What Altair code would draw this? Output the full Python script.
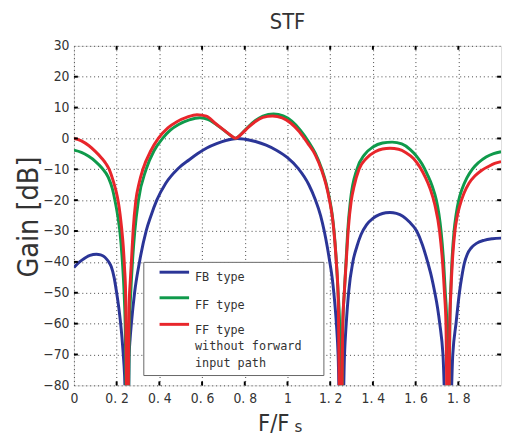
import altair as alt
import pandas as pd

# ---------------- data ----------------
x_tick_values = [0, 0.2, 0.4, 0.6, 0.8, 1.0, 1.2, 1.4, 1.6, 1.8]
y_tick_values = [-80, -70, -60, -50, -40, -30, -20, -10, 0, 10, 20, 30]

# FB type (blue)
fb_x = [0.000, 0.025, 0.050, 0.075, 0.105, 0.125, 0.145, 0.160, 0.175, 0.188, 0.200, 0.210,
        0.218, 0.225, 0.231, 0.237, 0.252,
        0.258, 0.263, 0.269, 0.284, 0.307, 0.338, 0.360, 0.388, 0.430, 0.487, 0.540, 0.580,
        0.622, 0.668, 0.715, 0.765,
        0.800, 0.850, 0.900, 0.950, 1.000, 1.050, 1.100, 1.130, 1.155, 1.172, 1.186, 1.198,
        1.209, 1.217, 1.229, 1.237, 1.252,
        1.267, 1.275, 1.286, 1.306, 1.325, 1.344, 1.370, 1.400, 1.430, 1.460, 1.480, 1.510,
        1.540, 1.570, 1.605, 1.632, 1.656, 1.675, 1.690, 1.703, 1.713, 1.728, 1.752,
        1.774, 1.789, 1.805, 1.817, 1.828, 1.842, 1.860, 1.885, 1.920, 1.960, 2.000]
fb_y = [-41.8, -40.1, -38.8, -37.9, -37.5, -37.7, -38.5, -39.7, -41.6, -45.0, -50.0, -54.8,
        -59.5, -64.5, -70.0, -76.5, -115.0,
        -71.0, -65.0, -60.0, -50.0, -40.0, -30.0, -25.2, -20.0, -14.5, -9.8, -6.9, -4.9,
        -3.1, -1.7, -0.6, 0.0,
        -0.25, -1.0, -2.2, -3.9, -6.2, -9.7, -15.0, -19.8, -25.0, -30.0, -35.0, -40.0,
        -45.0, -50.0, -60.0, -70.0, -115.0,
        -70.0, -60.0, -50.0, -40.0, -35.0, -31.2, -28.0, -25.9, -24.7, -24.1, -24.0, -24.3,
        -25.2, -27.0, -30.0, -34.5, -40.0, -45.0, -50.0, -55.0, -60.0, -70.0, -115.0,
        -70.0, -60.0, -50.0, -44.5, -40.5, -37.5, -35.5, -34.0, -33.0, -32.5, -32.3]

# FF type (green)
ff_x = [0.000, 0.035, 0.069, 0.100, 0.130, 0.161, 0.180, 0.192, 0.205, 0.215, 0.227, 0.235,
        0.240, 0.250,
        0.260, 0.266, 0.274, 0.285, 0.302, 0.338, 0.375, 0.415, 0.450, 0.490, 0.540, 0.590,
        0.630, 0.668, 0.700, 0.725, 0.745, 0.757,
        0.770, 0.790, 0.820, 0.850, 0.885, 0.935, 0.980, 1.020, 1.060, 1.098, 1.130, 1.160,
        1.180, 1.198, 1.210, 1.218, 1.229, 1.237, 1.244, 1.252,
        1.259, 1.266, 1.274, 1.282, 1.295, 1.325, 1.360, 1.400, 1.445, 1.490, 1.535, 1.575,
        1.605, 1.630, 1.655, 1.677, 1.697, 1.709, 1.719, 1.731, 1.739, 1.746, 1.755,
        1.760, 1.764, 1.770, 1.780, 1.790, 1.802, 1.818, 1.840, 1.865, 1.895, 1.930, 1.965,
        2.000]
ff_y = [-3.8, -4.5, -5.8, -7.4, -9.5, -12.6, -16.3, -20.0, -25.0, -30.0, -40.0, -50.0,
        -60.0, -115.0,
        -60.0, -50.0, -40.0, -30.0, -20.0, -10.0, -4.0, 0.0, 2.6, 4.5, 6.0, 6.7,
        6.1, 4.4, 2.8, 1.4, 0.4, 0.05,
        0.6, 1.9, 4.0, 5.8, 7.2, 7.9, 7.3, 5.6, 2.7, -1.0, -4.8, -9.8,
        -14.3, -20.0, -25.0, -30.0, -40.0, -50.0, -60.0, -115.0,
        -60.0, -50.0, -40.0, -30.0, -20.0, -10.0, -5.3, -2.8, -1.5, -1.2, -1.8, -3.6,
        -5.8, -8.3, -11.7, -15.3, -20.0, -24.5, -30.0, -40.0, -50.0, -60.0, -115.0,
        -60.0, -50.0, -40.0, -30.0, -24.5, -20.0, -16.3, -12.8, -10.0, -7.8, -6.0, -4.9,
        -4.3]

# FF type without forward input path (red)
ffn_x = [0.000, 0.035, 0.069, 0.100, 0.130, 0.150, 0.165, 0.185, 0.197, 0.207, 0.216, 0.224,
         0.231, 0.237, 0.242, 0.250,
         0.258, 0.264, 0.269, 0.277, 0.290, 0.305, 0.323, 0.360, 0.395, 0.440, 0.484, 0.530,
         0.576, 0.620, 0.660, 0.695, 0.725, 0.745, 0.757,
         0.770, 0.790, 0.820, 0.850, 0.885, 0.930, 0.975, 1.015, 1.055, 1.095, 1.130, 1.160,
         1.180, 1.198, 1.210, 1.218, 1.229, 1.237, 1.250,
         1.259, 1.266, 1.275, 1.284, 1.299, 1.312, 1.335, 1.370, 1.410, 1.445, 1.480, 1.520,
         1.555, 1.590, 1.620, 1.645, 1.668, 1.690, 1.712, 1.726, 1.735, 1.742, 1.752,
         1.760, 1.765, 1.772, 1.784, 1.794, 1.808, 1.825, 1.850, 1.877, 1.910, 1.943, 1.970,
         2.000]
ffn_y = [0.0, -0.8, -2.3, -4.2, -6.4, -8.2, -10.0, -14.0, -17.0, -20.3, -24.5, -29.5,
         -35.0, -42.0, -50.0, -115.0,
         -55.0, -46.0, -40.0, -30.0, -20.0, -14.5, -10.0, -4.0, 0.0, 3.4, 5.5, 6.9,
         7.7, 7.2, 5.0, 3.1, 1.5, 0.45, 0.05,
         0.55, 1.8, 3.8, 5.5, 6.8, 7.3, 6.7, 5.0, 2.2, -1.6, -5.3, -10.3,
         -14.8, -20.5, -25.5, -30.5, -40.5, -51.0, -115.0,
         -60.0, -50.0, -40.0, -30.0, -20.0, -15.5, -10.0, -6.4, -4.3, -3.4, -3.2, -3.5,
         -4.6, -6.5, -9.3, -12.5, -16.3, -21.5, -30.0, -40.0, -50.0, -60.0, -115.0,
         -60.0, -50.0, -40.0, -30.0, -25.5, -21.5, -18.0, -14.5, -12.2, -10.3, -9.0, -8.1,
         -7.5]

series_names = ["FB type", "FF type", "FF type\nwithout forward\ninput path"]
series_colors = ["#2b3597", "#0f9a4b", "#e8262b"]

# ---------------- layout ----------------
W, H = 434, 345
FONT = "DejaVu Sans Condensed, Liberation Sans Narrow, DejaVu Sans, sans-serif"
TXT = "#333333"

xscale = alt.Scale(domain=[0, 2], nice=False, zero=False)
yscale = alt.Scale(domain=[-80, 30], nice=False, zero=False)

x_axis = alt.Axis(values=x_tick_values, grid=True, gridDash=[1, 3], gridColor="#444444",
                  gridWidth=1, ticks=False, domain=False, labelFontSize=14, labelColor=TXT,
                  labelFont=FONT, labelPadding=6, title=None, labelFlush=False,
                  labelExpr="replace(format(datum.value, '~g'), '.', '. ')")
y_axis = alt.Axis(values=y_tick_values, grid=True, gridDash=[1, 3], gridColor="#444444",
                  gridWidth=1, ticks=False, domain=False, labelFontSize=14, labelColor=TXT,
                  labelFont=FONT, labelPadding=5, title=None)


def curve(xs, ys, color):
    df = pd.DataFrame({"f": xs, "gain": ys})
    return alt.Chart(df).mark_line(color=color, strokeWidth=3, interpolate="monotone",
                                   clip=True).encode(
        x=alt.X("f:Q", scale=xscale, axis=x_axis),
        y=alt.Y("gain:Q", scale=yscale, axis=y_axis),
    )


fb = curve(fb_x, fb_y, series_colors[0])
ff = curve(ff_x, ff_y, series_colors[1])
ffn = curve(ffn_x, ffn_y, series_colors[2])

# inward tick marks (matlab style)
xt = pd.DataFrame({"f": x_tick_values[1:]})
yt = pd.DataFrame({"gain": y_tick_values[1:-1]})
tick_x_bottom = alt.Chart(xt).mark_rule(color="black", strokeWidth=2).encode(
    x=alt.X("f:Q", scale=xscale, axis=x_axis), y=alt.value(H), y2=alt.value(H - 4))
tick_x_top = alt.Chart(xt).mark_rule(color="black", strokeWidth=2).encode(
    x=alt.X("f:Q", scale=xscale, axis=x_axis), y=alt.value(0), y2=alt.value(4))
tick_y_left = alt.Chart(yt).mark_rule(color="black", strokeWidth=2).encode(
    y=alt.Y("gain:Q", scale=yscale, axis=y_axis), x=alt.value(0), x2=alt.value(4))
tick_y_right = alt.Chart(yt).mark_rule(color="black", strokeWidth=2).encode(
    y=alt.Y("gain:Q", scale=yscale, axis=y_axis), x=alt.value(W), x2=alt.value(W - 4))

one = pd.DataFrame({"a": [0]})

# legend box
legend_box = alt.Chart(one).mark_rect(fill="white", stroke="#666666", strokeWidth=1).encode(
    x=alt.value(71), x2=alt.value(254), y=alt.value(220), y2=alt.value(335))

legend_layers = []
line_ys = [230, 256, 283]
text_ys = [235, 263, 289]
for name, col, ly, ty in zip(series_names, series_colors, line_ys, text_ys):
    legend_layers.append(
        alt.Chart(one).mark_rule(color=col, strokeWidth=3).encode(
            x=alt.value(87), x2=alt.value(117), y=alt.value(ly)))
    legend_layers.append(
        alt.Chart(pd.DataFrame({"t": [name]})).mark_text(
            align="left", baseline="middle", font="DejaVu Sans Mono", fontSize=12,
            color=TXT, lineBreak="\n", lineHeight=16.5).encode(
            x=alt.value(123), y=alt.value(ty), text="t:N"))

# axis titles drawn as text
x_title = alt.Chart(pd.DataFrame({"t": ["F/F"]})).mark_text(
    align="center", baseline="alphabetic", font=FONT, fontSize=24, color=TXT).encode(
    x=alt.value(203), y=alt.value(391), text="t:N")
x_title_sub = alt.Chart(pd.DataFrame({"t": ["s"]})).mark_text(
    align="left", baseline="alphabetic", font=FONT, fontSize=17, color=TXT).encode(
    x=alt.value(224), y=alt.value(392), text="t:N")
y_title = alt.Chart(pd.DataFrame({"t": ["Gain [dB]"]})).mark_text(
    align="center", baseline="alphabetic", font=FONT, fontSize=29, color=TXT,
    angle=270).encode(x=alt.value(-37), y=alt.value(174), text="t:N")

chart = alt.layer(
    fb, ff, ffn,
    tick_x_bottom, tick_x_top, tick_y_left, tick_y_right,
    legend_box, *legend_layers,
    x_title, x_title_sub, y_title,
).properties(
    width=W, height=H,
    title=alt.TitleParams("STF", fontSize=22, fontWeight="normal", font=FONT,
                          color=TXT, offset=5),
    autosize=alt.AutoSizeParams(type="none"),
    padding={"left": 67, "top": 35, "right": 3, "bottom": 48},
).configure_view(
    stroke="black", strokeWidth=3
).configure(background="white")

chart.save("out.html", embed_options={"renderer": "svg", "actions": False})
